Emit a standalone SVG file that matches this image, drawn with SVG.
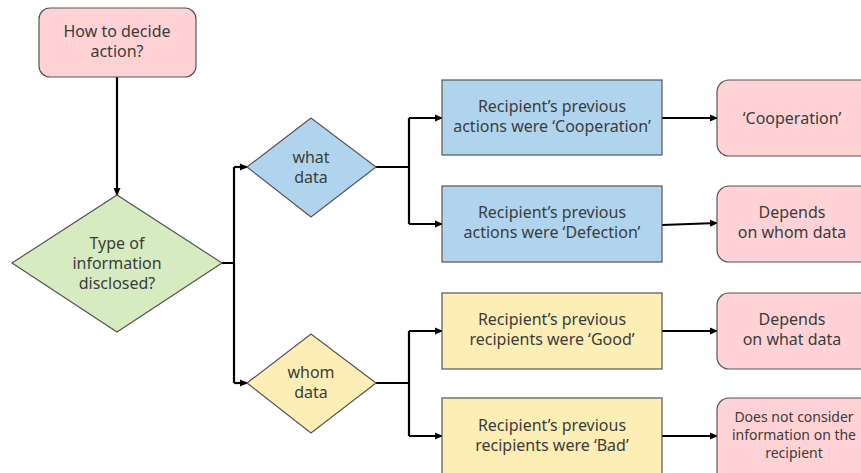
<svg xmlns="http://www.w3.org/2000/svg" width="861" height="473" viewBox="0 0 861 473">
<style>
text{font-family:"Noto Sans","Noto Sans CJK JP",sans-serif;font-size:16px;fill:#3c3c3c;text-anchor:middle}
.pink{fill:#ffd3d5;stroke:#555;stroke-width:1.2}
.green{fill:#d6ecc0;stroke:#555;stroke-width:1.2}
.blue{fill:#b1d4ee;stroke:#555;stroke-width:1.2}
.yellow{fill:#fdeeb5;stroke:#555;stroke-width:1.2}
.c{fill:none;stroke:#000;stroke-width:2.2}
.a{marker-end:url(#ah)}
.s{font-size:14px}
</style>
<defs>
<marker id="ah" markerWidth="8" markerHeight="8" refX="7" refY="4" orient="auto" markerUnits="userSpaceOnUse">
<path d="M0,0.5 L8,4 L0,7.5 Z" fill="#000"/>
</marker>
</defs>
<g id="connectors">
<path class="c a" d="M117,77 V195"/>
<path class="c" d="M222,263 H234 M234,167 V383"/>
<path class="c a" d="M234,167 H247"/>
<path class="c a" d="M234,383 H247"/>
<path class="c" d="M376,167 H409 M409,118 V224"/>
<path class="c a" d="M409,118 H442"/>
<path class="c a" d="M409,224 H442"/>
<path class="c" d="M376,383 H409 M409,331 V436"/>
<path class="c a" d="M409,331 H442"/>
<path class="c a" d="M409,436 H442"/>
<path class="c a" d="M662,118 H717"/>
<path class="c a" d="M662,225 L717,223"/>
<path class="c a" d="M662,331 H717"/>
<path class="c a" d="M662,436 H717"/>
</g>
<g id="start"><rect class="pink" x="39" y="8" width="157" height="69" rx="11"/><text x="117" y="37">How to decide</text><text x="117" y="57">action?</text></g>
<g id="type"><polygon class="green" points="12,263 117,195 222,263 117,332"/><text x="117" y="249">Type of</text><text x="117" y="269">information</text><text x="117" y="289">disclosed?</text></g>
<g id="what"><polygon class="blue" points="247,167 311,118 376,167 311,217"/><text x="311" y="163">what</text><text x="311" y="183">data</text></g>
<g id="whom"><polygon class="yellow" points="247,383 311,334 376,383 311,433"/><text x="311" y="378">whom</text><text x="311" y="398">data</text></g>
<g id="coop"><rect class="blue" x="442" y="80" width="220" height="75"/><text x="552" y="112">Recipient’s previous</text><text x="552" y="132">actions were ‘Cooperation’</text></g>
<g id="defect"><rect class="blue" x="442" y="186" width="220" height="76"/><text x="552" y="218">Recipient’s previous</text><text x="552" y="238">actions were ‘Defection’</text></g>
<g id="good"><rect class="yellow" x="442" y="293" width="220" height="76"/><text x="552" y="325">Recipient’s previous</text><text x="552" y="345">recipients were ‘Good’</text></g>
<g id="bad"><rect class="yellow" x="442" y="398" width="220" height="90"/><text x="552" y="431">Recipient’s previous</text><text x="552" y="451">recipients were ‘Bad’</text></g>
<g id="r1"><rect class="pink" x="717" y="80" width="160" height="76" rx="12"/><text x="792" y="124">‘Cooperation’</text></g>
<g id="r2"><rect class="pink" x="717" y="186" width="160" height="76" rx="12"/><text x="792" y="218">Depends</text><text x="792" y="238">on whom data</text></g>
<g id="r3"><rect class="pink" x="717" y="293" width="160" height="76" rx="12"/><text x="792" y="325">Depends</text><text x="792" y="345">on what data</text></g>
<g id="r4"><rect class="pink" x="717" y="398" width="160" height="90" rx="12"/><text class="s" x="794" y="422">Does not consider</text><text class="s" x="794" y="440">information on the</text><text class="s" x="794" y="458">recipient</text></g>
</svg>
